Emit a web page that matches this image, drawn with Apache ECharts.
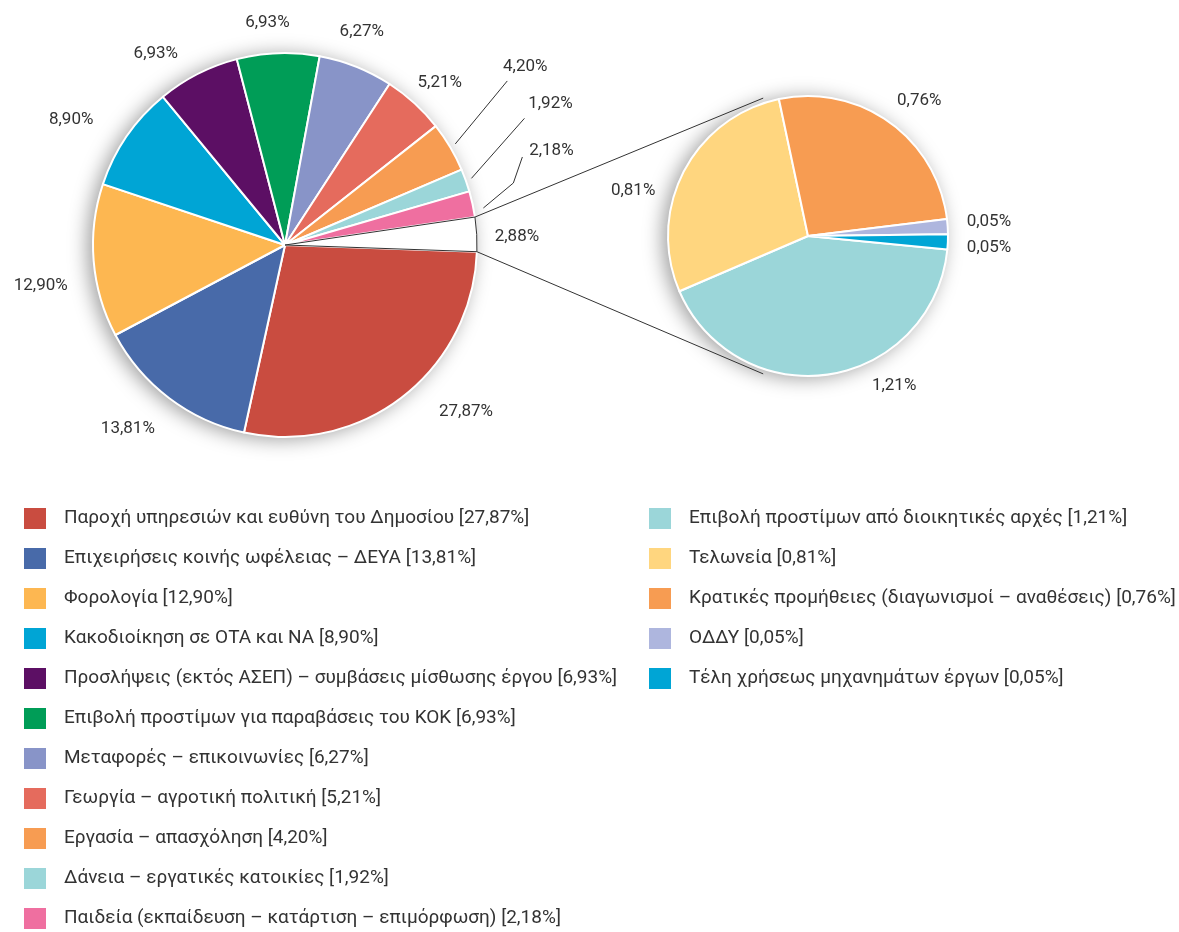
<!DOCTYPE html>
<html>
<head>
<meta charset="utf-8">
<script src="https://cdn.jsdelivr.net/npm/echarts@6/dist/echarts.min.js"></script>
<style>
html,body{margin:0;padding:0;background:#fff;}
#chart{width:1179px;height:932px;}
</style>
</head>
<body>
<div id="chart"></div>
<script>
// ---- Data ----
const mainNames = [
  'Παροχή υπηρεσιών και ευθύνη του Δημοσίου',
  'Επιχειρήσεις κοινής ωφέλειας – ΔΕΥΑ',
  'Φορολογία',
  'Κακοδιοίκηση σε ΟΤΑ και ΝΑ',
  'Προσλήψεις (εκτός ΑΣΕΠ) – συμβάσεις μίσθωσης έργου',
  'Επιβολή προστίμων για παραβάσεις του ΚΟΚ',
  'Μεταφορές – επικοινωνίες',
  'Γεωργία – αγροτική πολιτική',
  'Εργασία – απασχόληση',
  'Δάνεια – εργατικές κατοικίες',
  'Παιδεία (εκπαίδευση – κατάρτιση – επιμόρφωση)',
  'Λοιπά'
];
const mainValues = [27.87, 13.81, 12.90, 8.90, 6.93, 6.93, 6.27, 5.21, 4.20, 1.92, 2.18, 2.88];
const mainColors = ['#C94C40','#486AA9','#FDB751','#00A5D5','#5C0F64','#009D57','#8894C8','#E56B5D','#F79C52','#9BD6D9','#EF6FA0','#FFFFFF'];

const subNames = [
  'Επιβολή προστίμων από διοικητικές αρχές',
  'Τελωνεία',
  'Κρατικές προμήθειες (διαγωνισμοί – αναθέσεις)',
  'ΟΔΔΥ',
  'Τέλη χρήσεως μηχανημάτων έργων'
];
const subValues = [1.21, 0.81, 0.76, 0.05, 0.05];
const subColors = ['#9BD6D9','#FFD67F','#F79C52','#AEB6DE','#00A5D5'];

// ---- Layout (pixels) ----
const C1 = [285, 245], R1 = 192, START1 = -2;
const C2 = [808, 236], R2 = 140, START2 = -5.5;
const FONT = 'Roboto, "Open Sans", sans-serif';

const fmt = v => v.toFixed(2).replace('.', ',');
const allNames = mainNames.concat(subNames);
const allValues = mainValues.concat(subValues);
const valueOf = {};
allNames.forEach((n, i) => valueOf[n] = allValues[i]);

// label fine-tuning offsets [dx, dy] (positions, not data)
const mainLabelOffsets = {0: [22, 3], 1: [0, 19], 2: [-6, 24], 3: [-16, -8], 4: [-8, -7], 5: [17, -15], 6: [-27, -21], 7: [-12, -9], 11: [-2, 3]};
const leader = {
  8:  {shift: [0, 0], gap: 6, p1: [52, -63], p2: null, lab: [18, -14]},
  9:  {shift: [0, 0], gap: 6, p1: [53, -60], p2: null, lab: [26, -15]},
  10: {shift: [1, 6], gap: 10, p1: [30, -25], p2: [39, -51], lab: [29, -6]}
};
const subLabelOffsets = {0: [35, -3], 1: [-10, 26], 2: [-6, -9], 3: [-1, -4], 4: [-1, 5]};

const mainData = mainValues.map((v, i) => {
  const d = {value: v, name: mainNames[i], itemStyle: {color: mainColors[i]}};
  if (i === mainValues.length - 1) {
    d.itemStyle = {color: '#fff', borderColor: '#333', borderWidth: 1};
  }
  if (leader[i]) d.labelLine = {show: true};
  return d;
});
const subData = subValues.map((v, i) => ({value: v, name: subNames[i], itemStyle: {color: subColors[i]}}));

const labelStyle = {
  show: true, position: 'outside', color: '#333', fontSize: 17, fontFamily: FONT,
  formatter: p => fmt(p.value) + '%'
};

function rad(a) { return a * Math.PI / 180; }
const whiteFrac = mainValues[mainValues.length - 1] / mainValues.reduce((a, b) => a + b, 0);
const topA = START1 + whiteFrac * 360, botA = START1;
const p = (c, r, a) => [c[0] + r * Math.cos(rad(a)), c[1] - r * Math.sin(rad(a))];
const m1 = p(C1, R1, topA), m2 = p(C1, R1, botA);
const s1 = p(C2, R2 + 5, 108), s2 = p(C2, R2 + 5, -108);

const legendBase = {
  orient: 'vertical', icon: 'rect', itemWidth: 24, itemHeight: 23, itemGap: 15,
  selectedMode: false, padding: 0, height: 427,
  textStyle: {fontSize: 19, color: '#333', fontFamily: FONT, padding: [0, 0, 0, 12]},
  formatter: n => n + ' [' + fmt(valueOf[n]) + '%]'
};

const option = {
  backgroundColor: '#fff',
  animation: false,
  legend: [
    Object.assign({}, legendBase, {left: 22, top: 506, data: mainNames.slice(0, 11)}),
    Object.assign({}, legendBase, {left: 647, top: 506, data: subNames})
  ],
  graphic: [
    {type: 'line', shape: {x1: m1[0], y1: m1[1], x2: s1[0], y2: s1[1]}, style: {stroke: '#333', lineWidth: 1}, z: 10},
    {type: 'line', shape: {x1: m2[0], y1: m2[1], x2: s2[0], y2: s2[1]}, style: {stroke: '#333', lineWidth: 1}, z: 10}
  ],
  series: [
    {
      type: 'pie', center: C1, radius: R1, silent: true, z: 1,
      label: {show: false}, labelLine: {show: false},
      itemStyle: {color: '#fff', shadowBlur: 20, shadowColor: 'rgba(0,0,0,0.4)', shadowOffsetX: -5, shadowOffsetY: 2},
      data: [{value: 1, name: '__bg1'}]
    },
    {
      type: 'pie', center: C2, radius: R2, silent: true, z: 1,
      label: {show: false}, labelLine: {show: false},
      itemStyle: {color: '#fff', shadowBlur: 20, shadowColor: 'rgba(0,0,0,0.4)', shadowOffsetX: -5, shadowOffsetY: 2},
      data: [{value: 1, name: '__bg2'}]
    },
    {
      type: 'pie', center: C1, radius: R1, startAngle: START1, clockwise: true, z: 2,
      avoidLabelOverlap: false,
      itemStyle: {borderColor: '#fff', borderWidth: 2},
      label: labelStyle,
      labelLine: {show: false, length: 15, length2: 0, lineStyle: {color: '#333', width: 1}},
      emphasis: {disabled: true},
      data: mainData,
      labelLayout: function (params) {
        const i = params.dataIndex;
        if (leader[i] && params.labelLinePoints) {
          const a0 = params.labelLinePoints[0];
          const ang = Math.atan2(a0[1] - C1[1], a0[0] - C1[0]);
          const L = leader[i];
          const q0 = [a0[0] + L.gap * Math.cos(ang) + L.shift[0], a0[1] + L.gap * Math.sin(ang) + L.shift[1]];
          const q1 = [q0[0] + L.p1[0], q0[1] + L.p1[1]];
          const q2 = L.p2 ? [q0[0] + L.p2[0], q0[1] + L.p2[1]] : q1;
          return {
            x: q2[0] + L.lab[0], y: q2[1] + L.lab[1], align: 'center', verticalAlign: 'middle',
            labelLinePoints: [q0, q1, q2]
          };
        }
        const o = mainLabelOffsets[i];
        return o ? {dx: o[0], dy: o[1]} : {};
      }
    },
    {
      type: 'pie', center: C2, radius: R2, startAngle: START2, clockwise: true, z: 2,
      avoidLabelOverlap: false,
      itemStyle: {borderColor: '#fff', borderWidth: 2},
      label: labelStyle,
      labelLine: {show: false, length: 15, length2: 0},
      emphasis: {disabled: true},
      data: subData,
      labelLayout: function (params) {
        const o = subLabelOffsets[params.dataIndex];
        return o ? {dx: o[0], dy: o[1]} : {};
      }
    }
  ]
};

const chart = echarts.init(document.getElementById('chart'), null, {renderer: 'canvas'});
chart.setOption(option);
</script>
</body>
</html>
